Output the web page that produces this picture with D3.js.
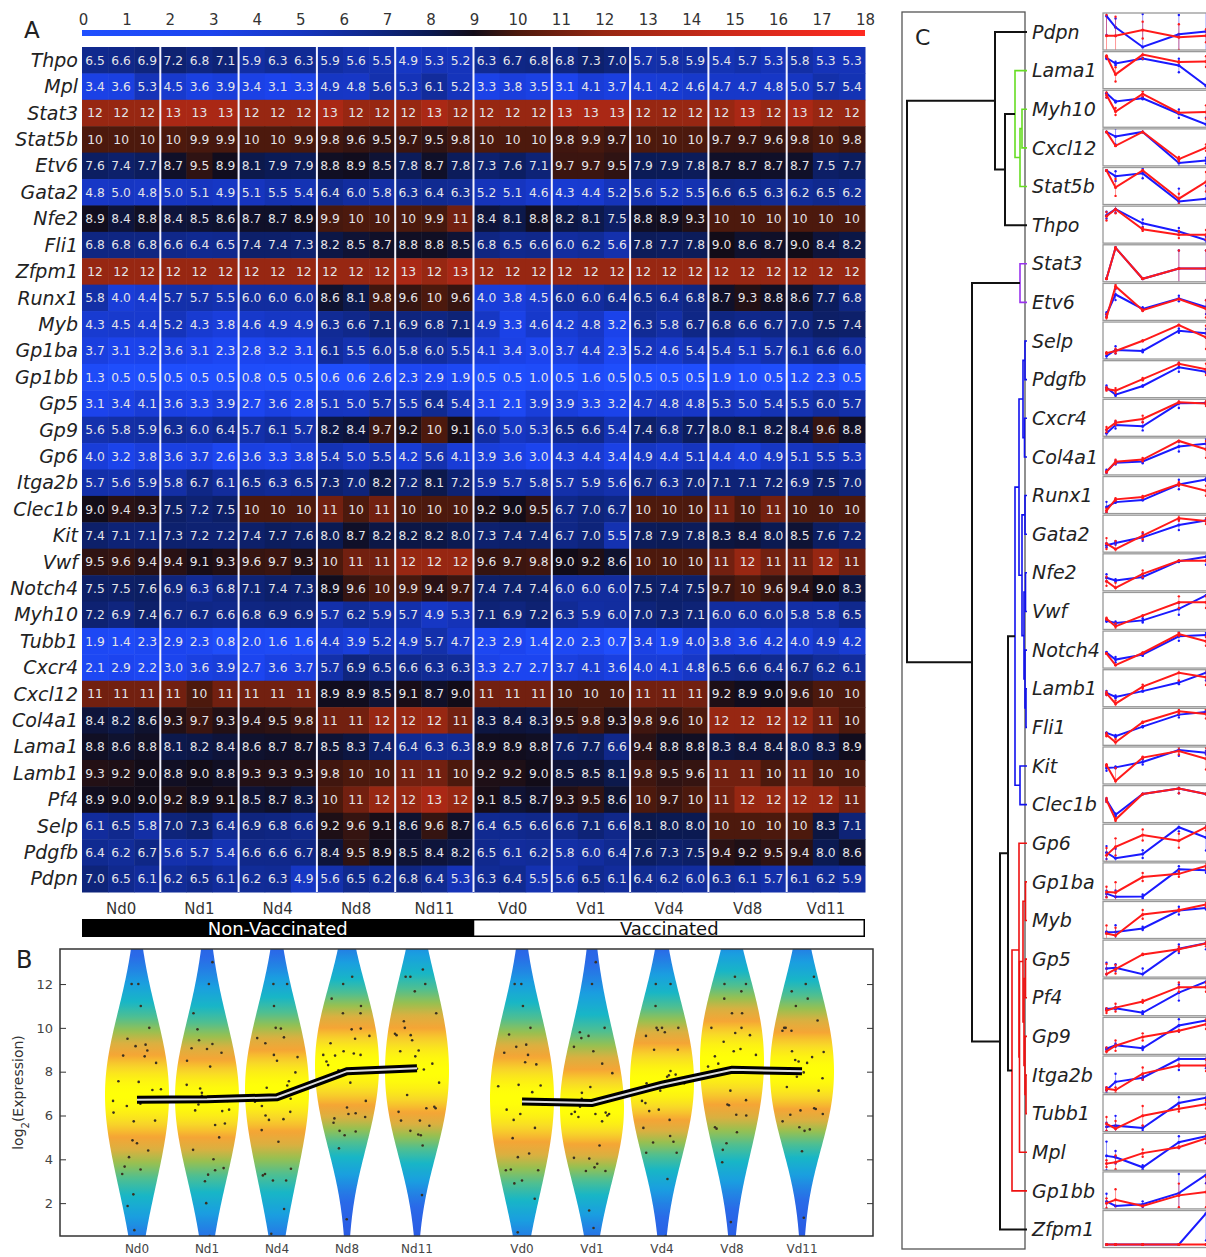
<!DOCTYPE html>
<html>
<head>
<meta charset="utf-8">
<title>Megakaryocyte gene expression</title>
<script src="https://d3js.org/d3.v7.min.js"></script>
<style>
  body { margin: 0; background: #fff; }
  svg text { font-family: "DejaVu Sans", sans-serif; }
  .rowlab { font-style: italic; fill: #222; }
</style>
</head>
<body>
<div id="chart"></div>
<script>
// ---- data ----
var genes = ["Thpo","Mpl","Stat3","Stat5b","Etv6","Gata2","Nfe2","Fli1","Zfpm1","Runx1","Myb","Gp1ba","Gp1bb","Gp5","Gp9","Gp6",
  "Itga2b","Clec1b","Kit","Vwf","Notch4","Myh10","Tubb1","Cxcr4","Cxcl12","Col4a1","Lama1","Lamb1","Pf4","Selp","Pdgfb","Pdpn"];
var groups = ["Nd0","Nd1","Nd4","Nd8","Nd11","Vd0","Vd1","Vd4","Vd8","Vd11"];
var days = [0, 1, 4, 8, 11];
var cbTicks = [0,1,2,3,4,5,6,7,8,9,10,11,12,13,14,15,16,17,18];
var yTicksB = [2, 4, 6, 8, 10, 12];

// 3 replicates per group, groups in the order above
var expr = [
  [6.5,6.6,6.9, 7.2,6.8,7.1, 5.9,6.3,6.3, 5.9,5.6,5.5, 4.9,5.3,5.2, 6.3,6.7,6.8, 6.8,7.3,7.0, 5.7,5.8,5.9, 5.4,5.7,5.3, 5.8,5.3,5.3],
  [3.4,3.6,5.3, 4.5,3.6,3.9, 3.4,3.1,3.3, 4.9,4.8,5.6, 5.3,6.1,5.2, 3.3,3.8,3.5, 3.1,4.1,3.7, 4.1,4.2,4.6, 4.7,4.7,4.8, 5.0,5.7,5.4],
  [12,12,12, 13,13,13, 12,12,12, 13,12,12, 12,13,12, 12,12,12, 13,13,13, 12,12,12, 12,13,12, 13,12,12],
  [10,10,10, 10,9.9,9.9, 10,10,9.9, 9.8,9.6,9.5, 9.7,9.5,9.8, 10,10,10, 9.8,9.9,9.7, 10,10,10, 9.7,9.7,9.6, 9.8,10,9.8],
  [7.6,7.4,7.7, 8.7,9.5,8.9, 8.1,7.9,7.9, 8.8,8.9,8.5, 7.8,8.7,7.8, 7.3,7.6,7.1, 9.7,9.7,9.5, 7.9,7.9,7.8, 8.7,8.7,8.7, 8.7,7.5,7.7],
  [4.8,5.0,4.8, 5.0,5.1,4.9, 5.1,5.5,5.4, 6.4,6.0,5.8, 6.3,6.4,6.3, 5.2,5.1,4.6, 4.3,4.4,5.2, 5.6,5.2,5.5, 6.6,6.5,6.3, 6.2,6.5,6.2],
  [8.9,8.4,8.8, 8.4,8.5,8.6, 8.7,8.7,8.9, 9.9,10,10, 10,9.9,11, 8.4,8.1,8.8, 8.2,8.1,7.5, 8.8,8.9,9.3, 10,10,10, 10,10,10],
  [6.8,6.8,6.8, 6.6,6.4,6.5, 7.4,7.4,7.3, 8.2,8.5,8.7, 8.8,8.8,8.5, 6.8,6.5,6.6, 6.0,6.2,5.6, 7.8,7.7,7.8, 9.0,8.6,8.7, 9.0,8.4,8.2],
  [12,12,12, 12,12,12, 12,12,12, 12,12,12, 13,12,13, 12,12,12, 12,12,12, 12,12,12, 12,12,12, 12,12,12],
  [5.8,4.0,4.4, 5.7,5.7,5.5, 6.0,6.0,6.0, 8.6,8.1,9.8, 9.6,10,9.6, 4.0,3.8,4.5, 6.0,6.0,6.4, 6.5,6.4,6.8, 8.7,9.3,8.8, 8.6,7.7,6.8],
  [4.3,4.5,4.4, 5.2,4.3,3.8, 4.6,4.9,4.9, 6.3,6.6,7.1, 6.9,6.8,7.1, 4.9,3.3,4.6, 4.2,4.8,3.2, 6.3,5.8,6.7, 6.8,6.6,6.7, 7.0,7.5,7.4],
  [3.7,3.1,3.2, 3.6,3.1,2.3, 2.8,3.2,3.1, 6.1,5.5,6.0, 5.8,6.0,5.5, 4.1,3.4,3.0, 3.7,4.4,2.3, 5.2,4.6,5.4, 5.4,5.1,5.7, 6.1,6.6,6.0],
  [1.3,0.5,0.5, 0.5,0.5,0.5, 0.8,0.5,0.5, 0.6,0.6,2.6, 2.3,2.9,1.9, 0.5,0.5,1.0, 0.5,1.6,0.5, 0.5,0.5,0.5, 1.9,1.0,0.5, 1.2,2.3,0.5],
  [3.1,3.4,4.1, 3.6,3.3,3.9, 2.7,3.6,2.8, 5.1,5.0,5.7, 5.5,6.4,5.4, 3.1,2.1,3.9, 3.9,3.3,3.2, 4.7,4.8,4.8, 5.3,5.0,5.4, 5.5,6.0,5.7],
  [5.6,5.8,5.9, 6.3,6.0,6.4, 5.7,6.1,5.7, 8.2,8.4,9.7, 9.2,10,9.1, 6.0,5.0,5.3, 6.5,6.6,5.4, 7.4,6.8,7.7, 8.0,8.1,8.2, 8.4,9.6,8.8],
  [4.0,3.2,3.8, 3.6,3.7,2.6, 3.6,3.3,3.8, 5.4,5.0,5.5, 4.2,5.6,4.1, 3.9,3.6,3.0, 4.3,4.4,3.4, 4.9,4.4,5.1, 4.4,4.0,4.9, 5.1,5.5,5.3],
  [5.7,5.6,5.9, 5.8,6.7,6.1, 6.5,6.3,6.5, 7.3,7.0,8.2, 7.2,8.1,7.2, 5.9,5.7,5.8, 5.7,5.9,5.6, 6.7,6.3,7.0, 7.1,7.1,7.2, 6.9,7.5,7.0],
  [9.0,9.4,9.3, 7.5,7.2,7.5, 10,10,10, 11,10,11, 10,10,10, 9.2,9.0,9.5, 6.7,7.0,6.7, 10,10,10, 11,10,11, 10,10,10],
  [7.4,7.1,7.1, 7.3,7.2,7.2, 7.4,7.7,7.6, 8.0,8.7,8.2, 8.2,8.2,8.0, 7.3,7.4,7.4, 6.7,7.0,5.5, 7.8,7.9,7.8, 8.3,8.4,8.0, 8.5,7.6,7.2],
  [9.5,9.6,9.4, 9.4,9.1,9.3, 9.6,9.7,9.3, 10,11,11, 12,12,12, 9.6,9.7,9.8, 9.0,9.2,8.6, 10,10,10, 11,12,11, 11,12,11],
  [7.5,7.5,7.6, 6.9,6.3,6.8, 7.1,7.4,7.3, 8.9,9.6,10, 9.9,9.4,9.7, 7.4,7.4,7.4, 6.0,6.0,6.0, 7.5,7.4,7.5, 9.7,10,9.6, 9.4,9.0,8.3],
  [7.2,6.9,7.4, 6.7,6.7,6.6, 6.8,6.9,6.9, 5.7,6.2,5.9, 5.7,4.9,5.3, 7.1,6.9,7.2, 6.3,5.9,6.0, 7.0,7.3,7.1, 6.0,6.0,6.0, 5.8,5.8,6.5],
  [1.9,1.4,2.3, 2.9,2.3,0.8, 2.0,1.6,1.6, 4.4,3.9,5.2, 4.9,5.7,4.7, 2.3,2.9,1.4, 2.0,2.3,0.7, 3.4,1.9,4.0, 3.8,3.6,4.2, 4.0,4.9,4.2],
  [2.1,2.9,2.2, 3.0,3.6,3.9, 2.7,3.6,3.7, 5.7,6.9,6.5, 6.6,6.3,6.3, 3.3,2.7,2.7, 3.7,4.1,3.6, 4.0,4.1,4.8, 6.5,6.6,6.4, 6.7,6.2,6.1],
  [11,11,11, 11,10,11, 11,11,11, 8.9,8.9,8.5, 9.1,8.7,9.0, 11,11,11, 10,10,10, 11,11,11, 9.2,8.9,9.0, 9.6,10,10],
  [8.4,8.2,8.6, 9.3,9.7,9.3, 9.4,9.5,9.8, 11,11,12, 12,12,11, 8.3,8.4,8.3, 9.5,9.8,9.3, 9.8,9.6,10, 12,12,12, 12,11,10],
  [8.8,8.6,8.8, 8.1,8.2,8.4, 8.6,8.7,8.7, 8.5,8.3,7.4, 6.4,6.3,6.3, 8.9,8.9,8.8, 7.6,7.7,6.6, 9.4,8.8,8.8, 8.3,8.4,8.4, 8.0,8.3,8.9],
  [9.3,9.2,9.0, 8.8,9.0,8.8, 9.3,9.3,9.3, 9.8,10,10, 11,11,10, 9.2,9.2,9.0, 8.5,8.5,8.1, 9.8,9.5,9.6, 11,11,10, 11,10,10],
  [8.9,9.0,9.0, 9.2,8.9,9.1, 8.5,8.7,8.3, 10,11,12, 12,13,12, 9.1,8.5,8.7, 9.3,9.5,8.6, 10,9.7,10, 11,12,12, 12,12,11],
  [6.1,6.5,5.8, 7.0,7.3,6.4, 6.9,6.8,6.6, 9.2,9.6,9.1, 8.6,9.6,8.7, 6.4,6.5,6.6, 6.6,7.1,6.6, 8.1,8.0,8.0, 10,10,10, 10,8.3,7.1],
  [6.4,6.2,6.7, 5.6,5.7,5.4, 6.6,6.6,6.7, 8.4,9.5,8.9, 8.5,8.4,8.2, 6.5,6.1,6.2, 5.8,6.0,6.4, 7.6,7.3,7.5, 9.4,9.2,9.5, 9.4,8.0,8.6],
  [7.0,6.5,6.1, 6.2,6.5,6.1, 6.2,6.3,4.9, 5.6,6.5,6.2, 6.8,6.4,5.3, 6.3,6.4,5.5, 5.6,6.5,6.1, 6.4,6.2,6.0, 6.3,6.1,5.7, 6.1,6.2,5.9]
];

// hierarchical clustering used in panel C (h = link height, col = cluster colour key)
function n(col, h, a, b) { return { col: col, h: h, kids: [a, b] }; }
var dendro = n("k", 120,
  n("k", 32, "Pdpn",
    n("k", 22, n("g", 12, "Lama1", n("g", 7, n("g", 5, "Myh10", "Cxcl12"), "Stat5b")), "Thpo")),
  n("k", 55, n("p", 7, "Stat3", "Etv6"),
    n("k", 27,
      n("k", 19,
        n("b", 12,
          n("b", 8,
            n("b", 4, n("b", 2, "Selp", "Pdgfb"), n("b", 2.5, "Cxcr4", "Col4a1")),
            n("b", 5, n("b", 2, "Runx1", "Gata2"),
              n("b", 3, n("b", 1.5, "Nfe2", "Vwf"), n("b", 2, "Notch4", n("b", 1, "Lamb1", "Fli1"))))),
          n("b", 7, "Kit", "Clec1b")),
        n("r", 15,
          n("r", 8, "Gp6",
            n("r", 7.5,
              n("r", 4, n("r", 1.5, "Gp1ba", "Myb"),
                n("r", 3, n("r", 1.5, "Gp5", "Pf4"), n("r", 2, "Gp9", n("r", 1, "Itga2b", "Tubb1")))),
              "Mpl")),
          "Gp1bb")),
      "Zfpm1")));
var clusterColors = { k: "#111", g: "#66dd22", p: "#9933ee", b: "#1111ee", r: "#ee1111" };

var width = 1206, height = 1257;
var svg = d3.select("#chart").append("svg").attr("width", width).attr("height", height);

// helpers
function groupVals(row, g) { return row.slice(g * 3, g * 3 + 3); }
var geneMeans = expr.map(function(row) { return groups.map(function(g, i) { return d3.mean(groupVals(row, i)); }); });

// ================= Panel A : heatmap =================
var hmX0 = 82, hmX1 = 865, hmY0 = 47, hmY1 = 892;
var colX = d3.scaleLinear().domain([0, 30]).range([hmX0, hmX1]);
var rowY = d3.scaleBand().domain(genes).range([hmY0, hmY1]);
var heat = d3.scaleLinear()
  .domain([0, 3, 5, 6.5, 8, 9, 10, 12, 15, 18])
  .range(["#2050ff", "#1c44ee", "#1636c2", "#10298e", "#0b1a52", "#120c18", "#4c190d", "#972712", "#d02a1a", "#ff2a20"]);

svg.append("text").attr("x", 24).attr("y", 38).style("font-size", "23px").attr("fill", "#222").text("A");

// colour bar
var defs = svg.append("defs");
var cbGrad = defs.append("linearGradient").attr("id", "cbgrad");
d3.range(0, 18.01, 0.5).forEach(function(v) {
  cbGrad.append("stop").attr("offset", v / 18).attr("stop-color", heat(v));
});
var cbX = d3.scaleLinear().domain([0, 18]).range([hmX0 + 1, hmX1]);
svg.append("rect").attr("x", hmX0).attr("y", 30).attr("width", hmX1 - hmX0).attr("height", 6).attr("fill", "url(#cbgrad)");
var cbAxis = svg.append("g").attr("transform", "translate(0,30)")
  .call(d3.axisTop(cbX).tickValues(cbTicks).tickSize(0).tickPadding(5));
cbAxis.select(".domain").remove();
cbAxis.selectAll("text").style("font-size", "15px").attr("fill", "#333").style("font-family", "DejaVu Sans");

// cells
var cells = [];
expr.forEach(function(row, r) {
  row.forEach(function(v, c) { cells.push({ gene: genes[r], c: c, v: v }); });
});
svg.append("g").selectAll("rect").data(cells).enter().append("rect")
  .attr("x", function(d) { return colX(d.c); })
  .attr("y", function(d) { return rowY(d.gene); })
  .attr("width", colX(1) - colX(0) + 0.5)
  .attr("height", rowY.bandwidth() + 0.5)
  .attr("fill", function(d) { return heat(d.v); });

var fmt1 = d3.format(".1f"), fmt0 = d3.format(".0f");
svg.append("g").selectAll("text").data(cells).enter().append("text")
  .attr("x", function(d) { return colX(d.c + 0.5); })
  .attr("y", function(d) { return rowY(d.gene) + rowY.bandwidth() / 2; })
  .attr("dy", "0.36em")
  .attr("text-anchor", "middle")
  .style("font-size", "12.3px")
  .attr("fill", "#e4e4e8")
  .text(function(d) { return d.v >= 10 ? fmt0(d.v) : fmt1(d.v); });

// white separators between groups
svg.append("g").selectAll("line").data(d3.range(1, 10)).enter().append("line")
  .attr("x1", function(k) { return colX(k * 3); }).attr("x2", function(k) { return colX(k * 3); })
  .attr("y1", hmY0).attr("y2", hmY1)
  .attr("stroke", "#f4f4ff").attr("stroke-width", 2);

// gene labels
svg.append("g").selectAll("text").data(genes).enter().append("text")
  .attr("class", "rowlab")
  .attr("x", 78)
  .attr("y", function(g) { return rowY(g) + rowY.bandwidth() / 2; })
  .attr("dy", "0.35em")
  .attr("text-anchor", "end")
  .style("font-size", "19px")
  .text(function(g) { return g; });

// group labels
svg.append("g").selectAll("text").data(groups).enter().append("text")
  .attr("x", function(g, i) { return colX(i * 3 + 1.5); })
  .attr("y", 914)
  .attr("text-anchor", "middle")
  .style("font-size", "15px")
  .attr("fill", "#333")
  .text(function(g) { return g; });

// vaccination bar
var midX = colX(15);
svg.append("rect").attr("x", hmX0).attr("y", 919).attr("width", midX - hmX0).attr("height", 18).attr("fill", "#000");
svg.append("rect").attr("x", midX).attr("y", 919.75).attr("width", hmX1 - midX - 0.75).attr("height", 16.5)
  .attr("fill", "#fff").attr("stroke", "#000").attr("stroke-width", 1.5);
svg.append("text").attr("x", (hmX0 + midX) / 2).attr("y", 934.5).attr("text-anchor", "middle")
  .style("font-size", "18px").attr("fill", "#fff").text("Non-Vaccinated");
svg.append("text").attr("x", (midX + hmX1) / 2).attr("y", 934.5).attr("text-anchor", "middle")
  .style("font-size", "18px").attr("fill", "#111").text("Vaccinated");

// ================= Panel B : violins =================
var bX0 = 60, bX1 = 873, bY0 = 949, bY1 = 1236;
var yB = d3.scaleLinear().domain([0.5, 13.6]).range([bY1, bY0]);
var posB = d3.scaleLinear().domain([0, 9.5]).range([137, 802]);
function slot(i) { return i < 5 ? i : i + 0.5; }
var halfW = 32, bw = 2.4;
var vColor = d3.scaleLinear()
  .domain([0, 0.22, 0.38, 0.52, 0.64, 0.74, 0.82, 0.89, 0.95, 1])
  .range(["#2a50e0", "#2a6ae8", "#1a9ee0", "#18b6c6", "#50bf90", "#98c050", "#dab040", "#f5a535", "#f8d828", "#ffff08"]);

svg.append("text").attr("x", 16).attr("y", 968).style("font-size", "24px").attr("fill", "#222").text("B");

var clipB = defs.append("clipPath").attr("id", "clipB");
clipB.append("rect").attr("x", bX0).attr("y", bY0).attr("width", bX1 - bX0).attr("height", bY1 - bY0);
var gB = svg.append("g").attr("clip-path", "url(#clipB)");

var grid = d3.range(0.5, 13.61, 0.1);
var groupMeans = [];
groups.forEach(function(g, gi) {
  var vals = [];
  expr.forEach(function(row) { vals = vals.concat(groupVals(row, gi)); });
  var dens = grid.map(function(y) {
    return d3.sum(vals, function(v) { var u = (y - v) / bw; return Math.exp(-0.5 * u * u); });
  });
  var mx = d3.max(dens);
  var pts = grid.map(function(y, k) { return { y: y, n: dens[k] / mx }; });
  var cx = posB(slot(gi));

  var grad = defs.append("linearGradient").attr("id", "vg" + gi)
    .attr("gradientUnits", "userSpaceOnUse")
    .attr("x1", 0).attr("x2", 0).attr("y1", yB(13.6)).attr("y2", yB(0.5));
  pts.slice().reverse().forEach(function(p) {
    grad.append("stop").attr("offset", (13.6 - p.y) / 13.1).attr("stop-color", vColor(p.n));
  });

  var area = d3.area().curve(d3.curveBasis)
    .y(function(p) { return yB(p.y); })
    .x0(function(p) { return cx - halfW * p.n; })
    .x1(function(p) { return cx + halfW * p.n; });
  gB.append("path").datum(pts).attr("d", area).attr("fill", "url(#vg" + gi + ")");

  // gene means as jittered dots
  var means = geneMeans.map(function(m) { return m[gi]; });
  groupMeans.push(d3.mean(means));
  gB.append("g").selectAll("circle").data(means).enter().append("circle")
    .attr("cx", function(v, i) {
      var j = ((i * 37 + gi * 11) % 29) / 28 * 2 - 1;
      var k = Math.round((v - 0.5) / 0.1);
      var nn = pts[Math.max(0, Math.min(pts.length - 1, k))].n;
      return cx + j * halfW * nn * 0.75;
    })
    .attr("cy", function(v) { return yB(v); })
    .attr("r", 1.3)
    .attr("fill", "#3a3020");
});

// mean trend lines, one per vaccination arm
var meanLine = d3.line().x(function(d) { return posB(slot(d.i)); }).y(function(d) { return yB(d.v); });
[[0, 5], [5, 10]].forEach(function(r) {
  var seg = d3.range(r[0], r[1]).map(function(i) { return { i: i, v: groupMeans[i] }; });
  gB.append("path").datum(seg).attr("d", meanLine).attr("fill", "none").attr("stroke", "#000").attr("stroke-width", 8);
  gB.append("path").datum(seg).attr("d", meanLine).attr("fill", "none").attr("stroke", "#ddd").attr("stroke-width", 2);
});

// axes
var axL = svg.append("g").attr("transform", "translate(" + bX0 + ",0)")
  .call(d3.axisLeft(yB).tickValues(yTicksB).tickSize(-6).tickPadding(7));
axL.select(".domain").remove();
axL.selectAll("text").style("font-size", "13px").attr("fill", "#444").style("font-family", "DejaVu Sans");
axL.selectAll("line").attr("stroke", "#333");
var axR = svg.append("g").attr("transform", "translate(" + bX1 + ",0)")
  .call(d3.axisRight(yB).tickValues(yTicksB).tickSize(-6).tickFormat(""));
axR.select(".domain").remove();
axR.selectAll("line").attr("stroke", "#333");
svg.append("rect").attr("x", bX0).attr("y", bY0).attr("width", bX1 - bX0).attr("height", bY1 - bY0)
  .attr("fill", "none").attr("stroke", "#333").attr("stroke-width", 1.5);

svg.append("g").selectAll("text").data(groups).enter().append("text")
  .attr("x", function(g, i) { return posB(slot(i)); })
  .attr("y", 1253)
  .attr("text-anchor", "middle")
  .style("font-size", "12px")
  .attr("fill", "#444")
  .text(function(g) { return g; });

var yl = svg.append("text").attr("transform", "translate(23," + ((bY0 + bY1) / 2) + ") rotate(-90)")
  .attr("text-anchor", "middle").style("font-size", "14px").attr("fill", "#333");
yl.append("tspan").text("log");
yl.append("tspan").attr("baseline-shift", "sub").style("font-size", "10px").text("2");
yl.append("tspan").text("(Expression)");

// ================= Panel C : dendrogram + profiles =================
var cTop = 32, cStep = 38.63;
var xD = d3.scaleLinear().domain([0, 120]).range([1027, 907]);
var leaves = [], links = [];
function layout(node) {
  if (typeof node === "string") {
    var y = cTop + leaves.length * cStep;
    leaves.push({ name: node, y: y });
    return { x: xD(0), y: y };
  }
  var a = layout(node.kids[0]), b = layout(node.kids[1]);
  var x = xD(node.h);
  links.push({ col: node.col, pts: [[a.x, a.y], [x, a.y], [x, b.y], [b.x, b.y]] });
  return { x: x, y: (a.y + b.y) / 2 };
}
layout(dendro);

svg.append("rect").attr("x", 902).attr("y", 12).attr("width", 1025 - 902).attr("height", 1249 - 12)
  .attr("fill", "none").attr("stroke", "#555").attr("stroke-width", 1.3);
svg.append("text").attr("x", 915).attr("y", 45).style("font-size", "22px").attr("fill", "#222").text("C");

svg.append("g").selectAll("path").data(links).enter().append("path")
  .attr("d", function(d) { return d3.line()(d.pts); })
  .attr("fill", "none")
  .attr("stroke", function(d) { return clusterColors[d.col]; })
  .attr("stroke-width", function(d) { return d.col === "k" ? 2 : 1.6; });

svg.append("g").selectAll("text").data(leaves).enter().append("text")
  .attr("class", "rowlab")
  .attr("x", 1032)
  .attr("y", function(d) { return d.y; })
  .attr("dy", "0.35em")
  .style("font-size", "19px")
  .attr("fill", "#333")
  .text(function(d) { return d.name; });

// small expression profiles (blue = non-vaccinated, red = vaccinated)
var xS = d3.scaleLinear().domain([0, 11]).range([1106.5, 1206]);
var gC = svg.append("g");
leaves.forEach(function(leaf, li) {
  var r = genes.indexOf(leaf.name);
  var row = expr[r];
  var series = [0, 1].map(function(arm) {
    return days.map(function(dd, di) {
      var v = groupVals(row, arm * 5 + di);
      return { day: dd, m: d3.mean(v), sd: d3.deviation(v) };
    });
  });
  var all = series[0].concat(series[1]).map(function(p) { return p.m; });
  var top = leaf.y - 19, bot = leaf.y + 18;
  var yS = d3.scaleLinear().domain(d3.extent(all)).range([bot - 3, top + 3]);
  if (d3.min(all) === d3.max(all)) yS.domain([d3.min(all) - 1, d3.max(all) + 1]);

  var cp = defs.append("clipPath").attr("id", "cs" + li);
  cp.append("rect").attr("x", 1103).attr("y", top).attr("width", 110).attr("height", bot - top);
  var g = gC.append("g").attr("clip-path", "url(#cs" + li + ")");
  var line = d3.line().x(function(p) { return xS(p.day); }).y(function(p) { return yS(p.m); });
  [["#1a1aff", series[0]], ["#ff1a1a", series[1]]].forEach(function(s) {
    var col = s[0], pts = s[1];
    g.append("g").selectAll("line").data(pts).enter().append("line")
      .attr("x1", function(p) { return xS(p.day); }).attr("x2", function(p) { return xS(p.day); })
      .attr("y1", function(p) { return yS(p.m - p.sd); }).attr("y2", function(p) { return yS(p.m + p.sd); })
      .attr("stroke", col).attr("stroke-opacity", 0.45).attr("stroke-width", 1);
    g.append("g").selectAll("circle").data(pts.concat(pts)).enter().append("circle")
      .attr("cx", function(p) { return xS(p.day); })
      .attr("cy", function(p, k) { return k < pts.length ? yS(p.m - p.sd) : yS(p.m + p.sd); })
      .attr("r", 1.2).attr("fill", col);
    g.append("path").datum(pts).attr("d", line).attr("fill", "none").attr("stroke", col).attr("stroke-width", 2);
    g.append("g").selectAll("circle").data(pts).enter().append("circle")
      .attr("cx", function(p) { return xS(p.day); }).attr("cy", function(p) { return yS(p.m); })
      .attr("r", 1.5).attr("fill", col);
  });
  gC.append("rect").attr("x", 1103).attr("y", top).attr("width", 110).attr("height", bot - top)
    .attr("fill", "none").attr("stroke", "#999").attr("stroke-width", 1.3);
});
</script>
</body>
</html>
